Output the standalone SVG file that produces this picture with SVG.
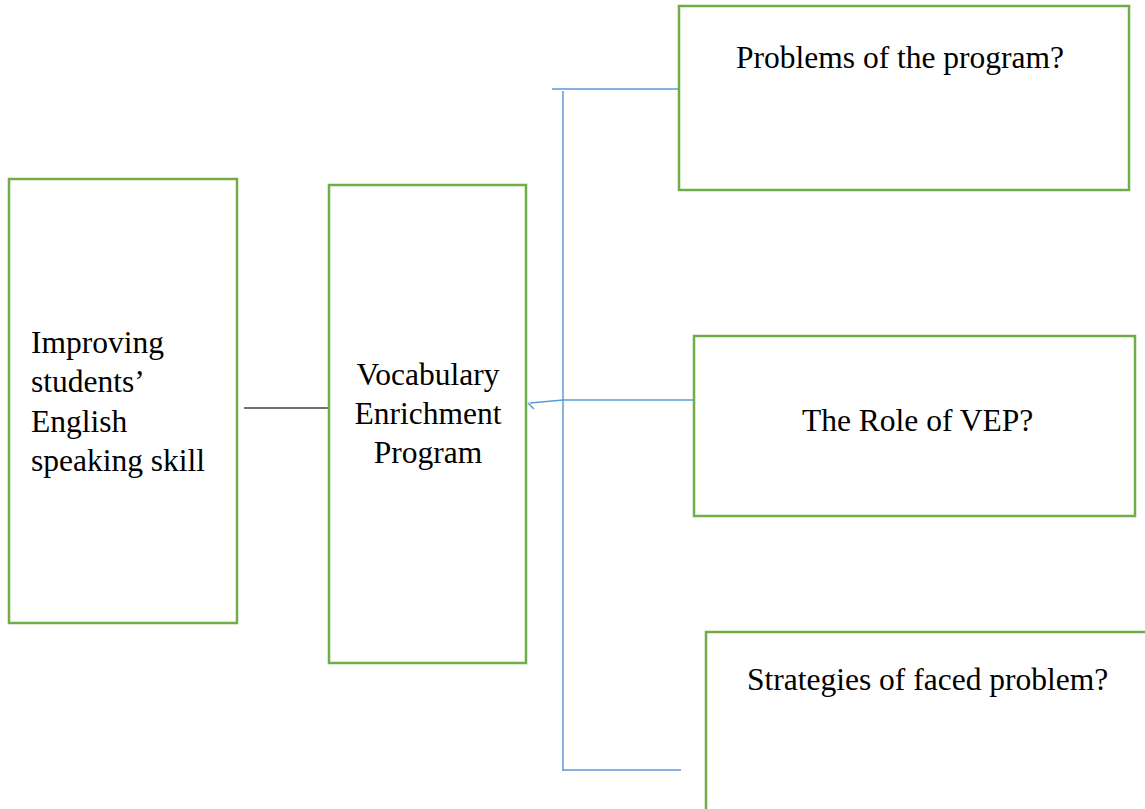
<svg xmlns="http://www.w3.org/2000/svg" width="1145" height="809" viewBox="0 0 1145 809">
<style>
.box{fill:#fff;stroke:#70AD47;stroke-width:2.5}
.t{font-family:"Liberation Serif","Times New Roman",serif;font-size:31.5px;fill:#000}
.c{fill:none;stroke:#5B9BD5;stroke-width:1.5}
</style>
<rect width="1145" height="809" fill="#fff"/>
<g id="connectors">
<line x1="244" y1="408" x2="328" y2="408" stroke="#404040" stroke-width="1.5"/>
<line class="c" x1="552" y1="89" x2="678" y2="89"/>
<line class="c" x1="563" y1="91" x2="563" y2="771"/>
<line class="c" x1="563" y1="770" x2="681" y2="770"/>
<line class="c" x1="563" y1="400" x2="694" y2="400"/>
<line class="c" x1="563" y1="400" x2="530" y2="403"/>
<line class="c" x1="528" y1="403" x2="534" y2="409"/>
</g>
<g id="n1"><rect class="box" x="9" y="179" width="228" height="444"/>
<text class="t" x="31" y="353">Improving</text>
<text class="t" x="31" y="392">students’</text>
<text class="t" x="31" y="432">English</text>
<text class="t" x="31" y="471">speaking skill</text></g>
<g id="n2"><rect class="box" x="329" y="185" width="197" height="478"/>
<text class="t" x="428" y="385" text-anchor="middle">Vocabulary</text>
<text class="t" x="428" y="424" text-anchor="middle">Enrichment</text>
<text class="t" x="428" y="463" text-anchor="middle">Program</text></g>
<g id="n3"><rect class="box" x="679" y="6" width="450" height="184"/>
<text class="t" x="736" y="68">Problems of the program?</text></g>
<g id="n4"><rect class="box" x="694" y="336" width="441" height="180"/>
<text class="t" x="802" y="431">The Role of VEP?</text></g>
<g id="n5"><rect class="box" x="706" y="632" width="460" height="200"/>
<text class="t" x="747" y="690">Strategies of faced problem?</text></g>
</svg>
